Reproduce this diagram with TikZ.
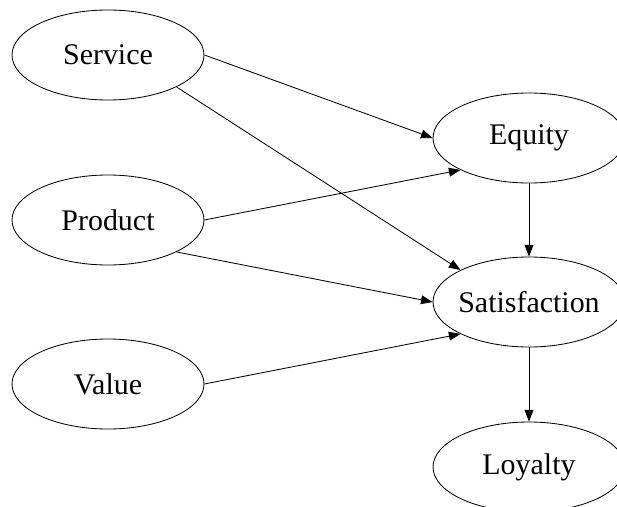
\documentclass[tikz,border=0pt]{standalone}
\usepackage{fontspec}
\setmainfont{Liberation Serif}
\usepackage{tikz}
\usetikzlibrary{arrows.meta,shapes.geometric}

\begin{document}
\begin{tikzpicture}[
	var/.style={ellipse, draw, line width=0.6pt, inner ysep=0pt, inner xsep=-0.5cm, minimum width=4.8cm, minimum height=2.25cm, font=\fontsize{21.3}{25}\selectfont},
	path/.style={line width=0.6pt, -{Triangle[length=0.29cm, width=0.22cm]}}
	]
						\clip (0, 0) rectangle (15.425, -12.65);
						\node[var] (service) at (2.7, -1.375) {Service};
						\node[var] (product) at (2.7, -5.5) {Product};
						\node[var] (value) at (2.7, -9.6) {Value};
						\node[var] (equity) at (13.225, -3.45) {Equity};
						\node[var] (satisfaction) at (13.225, -7.55) {Satisfaction};
						\node[var] (loyalty) at (13.225, -11.675) {Loyalty};
						\draw[path] (service.east) -- (equity.west);
						\draw[path] (service.-25.6) -- (satisfaction.155);
						\draw[path] (product.east) -- (equity.205);
						\draw[path] (product.-25.6) -- (satisfaction.west);
						\draw[path] (value.east) -- (satisfaction.205);
						\draw[path] (equity.south) -- (satisfaction.north);
						\draw[path] (satisfaction.south) -- (loyalty.north);
					\end{tikzpicture}
\end{document}
